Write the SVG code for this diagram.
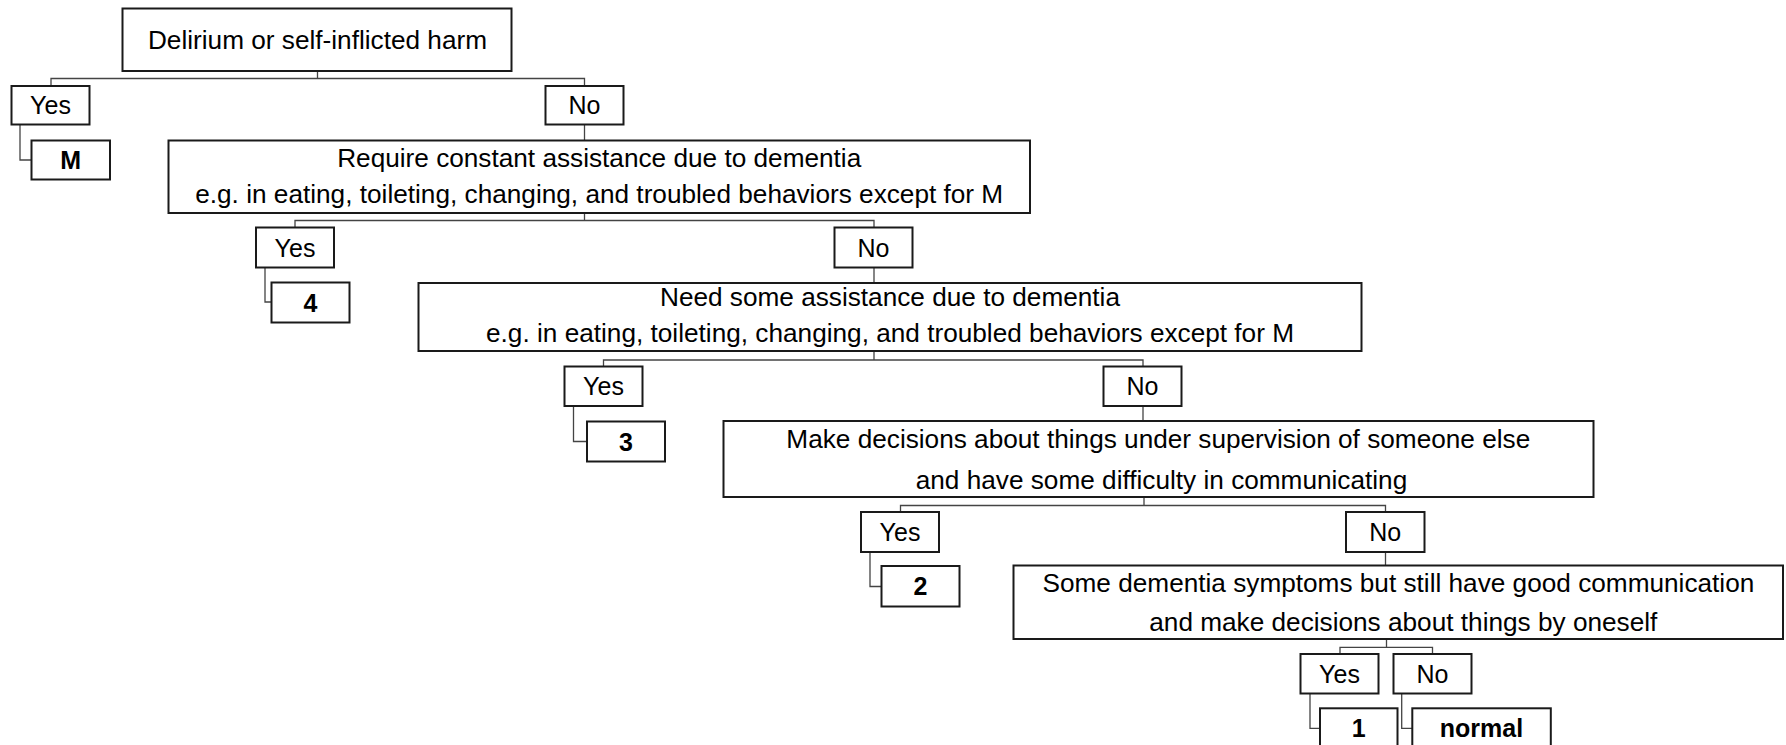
<svg xmlns="http://www.w3.org/2000/svg" width="1786" height="745" viewBox="0 0 1786 745">
<style>
.box{fill:#fff;stroke:#1a1a1a;stroke-width:2}
.t{font-family:"Liberation Sans",Arial,sans-serif;font-size:26.2px;fill:#000;text-anchor:middle}
.lb{font-family:"Liberation Sans",Arial,sans-serif;font-size:25px;fill:#000;text-anchor:middle}
.rb{font-family:"Liberation Sans",Arial,sans-serif;font-size:25px;font-weight:bold;fill:#000;text-anchor:middle}
.c{fill:none;stroke:#444;stroke-width:1.3}
</style>
<rect width="1786" height="745" fill="#fff"/>
<g id="connectors">
<path class="c" d="M51 86V78.5H584.5V86M317.5 71V78.5"/>
<path class="c" d="M20 125V160H31.5"/>
<path class="c" d="M584.5 125V140.5"/>
<path class="c" d="M295 227.5V220.5H874V227.5M584.5 213V220.5"/>
<path class="c" d="M265 267.5V302H271.5"/>
<path class="c" d="M874 267.5V283"/>
<path class="c" d="M603.5 366.5V360H1143V366.5M874 351V360"/>
<path class="c" d="M573.5 406V441.5H587"/>
<path class="c" d="M1143 406V421"/>
<path class="c" d="M900.5 512V505.5H1385.5V512M1144 497V505.5"/>
<path class="c" d="M870 552V586.5H881.5"/>
<path class="c" d="M1385.5 552V565.5"/>
<path class="c" d="M1340 654V647.3H1432.5V654M1386.5 639V647.3"/>
<path class="c" d="M1310 693.5V728.3H1320"/>
<path class="c" d="M1401.7 693.5V728.3H1412.3"/>
</g>
<g id="nA"><rect class="box" x="122.5" y="8.5" width="389" height="62.5"/><text class="t" x="317.5" y="49">Delirium or self-inflicted harm</text></g>
<g id="yes1"><rect class="box" x="11.5" y="86" width="78" height="38.5"/><text class="lb" x="50.5" y="114.3">Yes</text></g>
<g id="no1"><rect class="box" x="545.5" y="86" width="78" height="38.5"/><text class="lb" x="584.5" y="114.3">No</text></g>
<g id="rM"><rect class="box" x="31.5" y="140.5" width="78.5" height="39"/><text class="rb" x="70.7" y="169">M</text></g>
<g id="nB"><rect class="box" x="168.5" y="140.5" width="861.5" height="72.5"/><text class="t" x="599.2" y="166.5">Require constant assistance due to dementia</text><text class="t" x="599.2" y="203">e.g. in eating, toileting, changing, and troubled behaviors except for M</text></g>
<g id="yes2"><rect class="box" x="256" y="227.5" width="78" height="40"/><text class="lb" x="295" y="256.5">Yes</text></g>
<g id="no2"><rect class="box" x="834.5" y="227.5" width="78" height="40"/><text class="lb" x="873.5" y="256.5">No</text></g>
<g id="r4"><rect class="box" x="271.5" y="282.5" width="78" height="40"/><text class="rb" x="310.5" y="311.5">4</text></g>
<g id="nC"><rect class="box" x="418.5" y="283" width="943" height="68"/><text class="t" x="890" y="305.5">Need some assistance due to dementia</text><text class="t" x="890" y="341.5">e.g. in eating, toileting, changing, and troubled behaviors except for M</text></g>
<g id="yes3"><rect class="box" x="564.5" y="366.5" width="78" height="39.5"/><text class="lb" x="603.5" y="395">Yes</text></g>
<g id="no3"><rect class="box" x="1103.5" y="366.5" width="78" height="39.5"/><text class="lb" x="1142.5" y="395">No</text></g>
<g id="r3"><rect class="box" x="587" y="421.5" width="78" height="40"/><text class="rb" x="626" y="450.5">3</text></g>
<g id="nD"><rect class="box" x="723.5" y="421" width="870" height="76"/><text class="t" x="1158.3" y="447.5">Make decisions about things under supervision of someone else</text><text class="t" x="1161.5" y="488.5">and have some difficulty in communicating</text></g>
<g id="yes4"><rect class="box" x="861" y="512" width="78" height="40"/><text class="lb" x="900" y="541">Yes</text></g>
<g id="no4"><rect class="box" x="1346" y="512" width="78.5" height="40"/><text class="lb" x="1385.3" y="541">No</text></g>
<g id="r2"><rect class="box" x="881.5" y="566" width="78" height="40.5"/><text class="rb" x="920.5" y="595">2</text></g>
<g id="nE"><rect class="box" x="1013.5" y="565.5" width="769.5" height="73.5"/><text class="t" x="1398.4" y="592">Some dementia symptoms but still have good communication</text><text class="t" x="1403.3" y="630.5">and make decisions about things by oneself</text></g>
<g id="yes5"><rect class="box" x="1300.5" y="654" width="78" height="39.5"/><text class="lb" x="1339.5" y="682.5">Yes</text></g>
<g id="no5"><rect class="box" x="1393.5" y="654" width="78" height="39.5"/><text class="lb" x="1432.5" y="682.5">No</text></g>
<g id="r1"><rect class="box" x="1320" y="708.3" width="77.5" height="45"/><text class="rb" x="1358.7" y="737">1</text></g>
<g id="rN"><rect class="box" x="1412.3" y="708.3" width="138.5" height="45"/><text class="rb" x="1481.5" y="737">normal</text></g>
</svg>
